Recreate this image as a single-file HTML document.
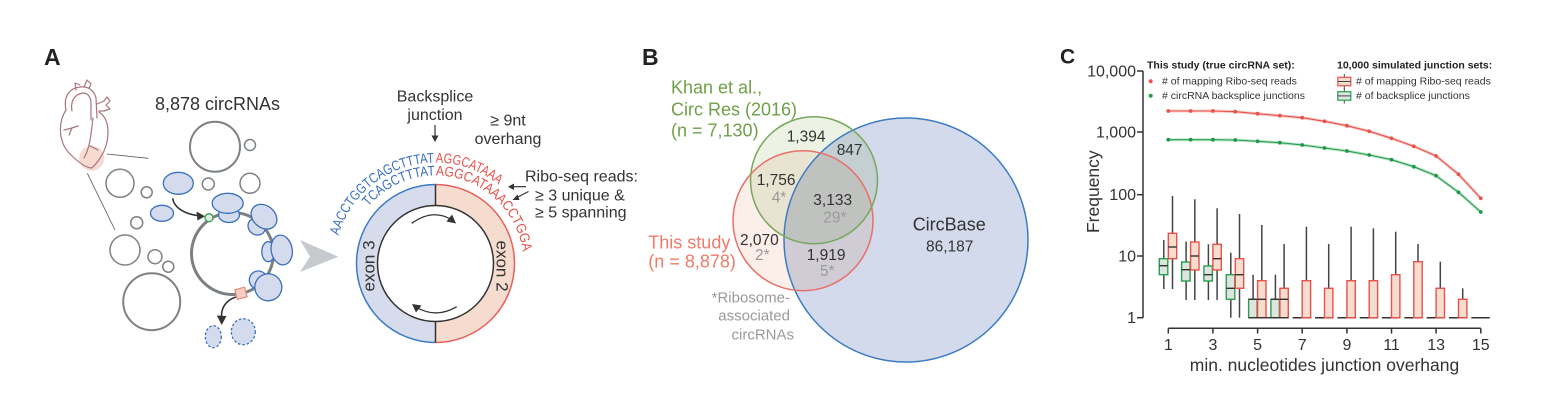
<!DOCTYPE html>
<html>
<head>
<meta charset="utf-8">
<style>
  html,body{margin:0;padding:0;background:#fff;}
  svg{display:block;}
  text{font-family:"Liberation Sans", Arial, sans-serif;}
</style>
</head>
<body>
<svg width="1551" height="400" viewBox="0 0 1551 400" xmlns="http://www.w3.org/2000/svg">
<rect width="1551" height="400" fill="#fff"/>
<defs>
  <path id="outerArc" d="M348 314 A101 101 0 1 1 536.5 263.5" fill="none"/>
  <path id="innerArc" d="M359.3 307.5 A88 88 0 1 1 511.7 307.5" fill="none"/>
</defs>

<!-- ================= PANEL A ================= -->
<text x="44" y="65" font-size="23" font-weight="bold" fill="#222">A</text>
<text x="155" y="110" font-size="18" fill="#333">8,878 circRNAs</text>

<!-- heart -->
<circle cx="91.7" cy="158.3" r="12.5" fill="#f6d3c8" opacity="0.85"/>
<g fill="none" stroke="#a8767a" stroke-width="1.2" stroke-linecap="round" stroke-linejoin="round">
  <path d="M66 110 C58 122,58 142,70 154 C78 162,86 168,92 168 C100 160,108 148,108 132 C108 122,105 116,99 112"/>
  <path d="M66 110 C63 96,70 88,80 87 C88 86,94 90,96 98 L97 118"/>
  <path d="M72 111 C70 101,75 94,83 93 C88 93,91 97,91 104 L91 120"/>
  <path d="M76 90 L75 83 L80 85 M84 87 L87 80 L91 84 L89 88"/>
  <path d="M97 104 L104 101 L107 97 L110 101 L106 105 L110 109 L104 111 L99 111"/>
  <path d="M64 130 L72 128 L78 126 M72 128 L69 135"/>
  <path d="M93 118 C91 134,90 148,84 158 M90 146 L98 150"/>
</g>
<line x1="106.7" y1="154" x2="148.3" y2="158.3" stroke="#555" stroke-width="0.8"/>
<line x1="87.3" y1="173.3" x2="115" y2="230" stroke="#555" stroke-width="0.8"/>

<!-- grey circles -->
<g fill="none" stroke="#7d8285" stroke-width="1.5">
  <circle cx="215" cy="146.7" r="25" stroke-width="2"/>
  <circle cx="250" cy="145" r="5.5"/>
  <circle cx="120" cy="183.3" r="14"/>
  <circle cx="146.7" cy="192.3" r="5.5"/>
  <circle cx="208.3" cy="184" r="6"/>
  <circle cx="250" cy="183.3" r="10"/>
  <circle cx="136.7" cy="222.7" r="6"/>
  <circle cx="125" cy="250" r="15"/>
  <circle cx="155" cy="256.7" r="7"/>
  <circle cx="168.3" cy="266.7" r="5.5"/>
  <circle cx="151.7" cy="301.7" r="28.5" stroke-width="2"/>
</g>

<!-- ring -->
<circle cx="232.5" cy="253.5" r="41" fill="none" stroke="#7b8083" stroke-width="3"/>

<!-- ribosomes -->
<g fill="#d4dbec" stroke="#3a6fc0" stroke-width="1.3">
  <ellipse cx="178.3" cy="183.3" rx="15" ry="11"/>
  <ellipse cx="162" cy="213.3" rx="11.5" ry="8"/>
  <ellipse cx="229" cy="215" rx="10.5" ry="7.5"/>
  <ellipse cx="227.7" cy="203.3" rx="15.5" ry="10"/>
  <ellipse cx="256.7" cy="226.7" rx="9" ry="8" transform="rotate(35 256.7 226.7)"/>
  <ellipse cx="264" cy="216.7" rx="14" ry="11" transform="rotate(40 264 216.7)"/>
  <ellipse cx="268.3" cy="251.7" rx="6.5" ry="10"/>
  <ellipse cx="281.7" cy="250" rx="10.5" ry="15" transform="rotate(-10 281.7 250)"/>
  <ellipse cx="258.3" cy="280" rx="9" ry="9"/>
  <ellipse cx="268.3" cy="287.3" rx="13.5" ry="13.5" transform="rotate(-30 268.3 287.3)"/>
</g>
<g fill="#d4dbec" stroke="#3a6fc0" stroke-width="1.3" stroke-dasharray="2.5 2">
  <ellipse cx="213.3" cy="336.7" rx="8" ry="11"/>
  <ellipse cx="243.3" cy="331.7" rx="12" ry="13"/>
</g>
<circle cx="209" cy="217.7" r="4" fill="#e2ebe0" stroke="#2fa050" stroke-width="1.3"/>
<rect x="236" y="288.3" width="10" height="10" fill="#f7cfc6" stroke="#e88878" stroke-width="1.2" transform="rotate(-15 241 293.3)"/>

<!-- black arrows -->
<path d="M172.7 198.3 C174 208,185 214,199 215.8" fill="none" stroke="#333" stroke-width="1.6"/>
<polygon points="205,216.3 196.5,211.5 197.5,220.5" fill="#333"/>
<path d="M236 297 C226 300,221 308,221.5 317" fill="none" stroke="#333" stroke-width="1.6"/>
<polygon points="221.7,325 216.8,315.5 226.5,316" fill="#333"/>

<!-- grey chevron -->
<polygon points="300,240 338.3,256.7 300,272 310,256.5" fill="#c6cace"/>

<!-- circle diagram -->
<path d="M435.5 184.5 A79 79 0 0 0 435.5 342.5 L435.5 321.5 A58 58 0 0 1 435.5 205.5 Z" fill="#d6dcec"/>
<path d="M435.5 184.5 A79 79 0 0 1 435.5 342.5 L435.5 321.5 A58 58 0 0 0 435.5 205.5 Z" fill="#f5dccf"/>
<path d="M435.5 184.5 A79 79 0 0 0 435.5 342.5" fill="none" stroke="#3b7cc6" stroke-width="1.5"/>
<path d="M435.5 184.5 A79 79 0 0 1 435.5 342.5" fill="none" stroke="#e8605a" stroke-width="1.5"/>
<circle cx="435.5" cy="263.5" r="58" fill="#fff" stroke="#333" stroke-width="1.5"/>
<line x1="435.5" y1="184.5" x2="435.5" y2="205.5" stroke="#333" stroke-width="1.5"/>
<line x1="435.5" y1="321.5" x2="435.5" y2="342.5" stroke="#333" stroke-width="1.5"/>
<path d="M411.7 223.3 Q433 208,452 220" fill="none" stroke="#333" stroke-width="1.3"/>
<polygon points="456,223.5 446.5,221.5 452,214.5" fill="#333"/>
<path d="M456.7 306.7 Q436 319,416 307" fill="none" stroke="#333" stroke-width="1.3"/>
<polygon points="412,304 421.5,305.5 416,312.5" fill="#333"/>
<text transform="translate(369,266) rotate(-90)" font-size="17" fill="#333" text-anchor="middle" dominant-baseline="central">exon 3</text>
<text transform="translate(502,266) rotate(90)" font-size="17" fill="#333" text-anchor="middle" dominant-baseline="central">exon 2</text>

<!-- sequences -->
<text font-size="14" fill="#3a6fc0"><textPath href="#outerArc" startOffset="81" textLength="129" lengthAdjust="spacingAndGlyphs">AACCTGGTCAGCTTTAT</textPath></text>
<text font-size="14" fill="#e8524a"><textPath href="#outerArc" startOffset="211.5" textLength="68" lengthAdjust="spacingAndGlyphs">AGGCATAAA</textPath></text>
<text font-size="14" fill="#3a6fc0"><textPath href="#innerArc" startOffset="107.5" textLength="76" lengthAdjust="spacingAndGlyphs">TCAGCTTTAT</textPath></text>
<text font-size="14" fill="#e8524a"><textPath href="#innerArc" startOffset="184.3" textLength="126" lengthAdjust="spacingAndGlyphs">AGGCATAAACCTGGA</textPath></text>

<text x="435" y="101.7" font-size="16" fill="#333" text-anchor="middle">Backsplice</text>
<text x="435" y="120" font-size="16" fill="#333" text-anchor="middle">junction</text>
<line x1="435" y1="125" x2="435" y2="137" stroke="#333" stroke-width="1.2"/>
<polygon points="435,142 431.5,135.5 438.5,135.5" fill="#333"/>
<text x="508" y="125.5" font-size="16" fill="#333" text-anchor="middle">≥ 9nt</text>
<text x="508" y="144" font-size="16" fill="#333" text-anchor="middle">overhang</text>
<text x="525" y="181.7" font-size="16" fill="#333">Ribo-seq reads:</text>
<text x="535" y="200.7" font-size="16" fill="#333">≥ 3 unique &amp;</text>
<text x="535" y="217.7" font-size="16" fill="#333">≥ 5 spanning</text>
<line x1="526" y1="186.7" x2="512" y2="186.7" stroke="#333" stroke-width="1.2"/>
<polygon points="508,186.7 514,183.5 514,190" fill="#333"/>
<line x1="528.5" y1="191.5" x2="516" y2="198" stroke="#333" stroke-width="1.2"/>
<polygon points="512.5,200 517.5,194.5 519.5,200" fill="#333"/>

<!-- ================= PANEL B ================= -->
<text x="642" y="65" font-size="23" font-weight="bold" fill="#222">B</text>
<g style="mix-blend-mode:multiply">
  <circle cx="906" cy="240" r="122" fill="#d3daeb"/>
</g>
<circle cx="803" cy="220.7" r="70" fill="#f9dccf" fill-opacity="0.45" style="mix-blend-mode:multiply"/>
<circle cx="814" cy="180.3" r="63.5" fill="#dce9cf" fill-opacity="0.55" style="mix-blend-mode:multiply"/>
<circle cx="906" cy="240" r="122" fill="none" stroke="#3b7bc4" stroke-width="1.5"/>
<circle cx="803" cy="220.7" r="70" fill="none" stroke="#e8706a" stroke-width="1.5"/>
<circle cx="814" cy="180.3" r="63.5" fill="none" stroke="#78a85c" stroke-width="1.5"/>

<g font-size="18" fill="#6fa048">
  <text x="671" y="93.3">Khan et al.,</text>
  <text x="671" y="115.7">Circ Res (2016)</text>
  <text x="671" y="136.5">(n = 7,130)</text>
</g>
<g font-size="18" fill="#f07a6a">
  <text x="648.3" y="248.3">This study</text>
  <text x="648.3" y="267.3">(n = 8,878)</text>
</g>
<g font-size="15.5" fill="#333">
  <text x="786.7" y="141.7">1,394</text>
  <text x="836.7" y="155">847</text>
  <text x="756.7" y="185">1,756</text>
  <text x="813.3" y="205">3,133</text>
  <text x="740" y="245">2,070</text>
  <text x="806.7" y="260">1,919</text>
  <text x="926" y="251.7">86,187</text>
</g>
<text x="912.7" y="230.7" font-size="18" fill="#333">CircBase</text>
<g font-size="15.5" fill="#9a9a9a">
  <text x="771.7" y="202.3">4*</text>
  <text x="823.3" y="222.7">29*</text>
  <text x="755" y="260">2*</text>
  <text x="820" y="276">5*</text>
</g>
<g font-size="15" fill="#9a9a9a" text-anchor="end">
  <text x="790" y="302.7">*Ribosome-</text>
  <text x="790" y="320.7">associated</text>
  <text x="794" y="339.3">circRNAs</text>
</g>

<!-- ================= PANEL C ================= -->
<text x="1060" y="63.5" font-size="21" font-weight="bold" fill="#222">C</text>

<!-- axes -->
<g stroke="#333" stroke-width="1.5" fill="none">
  <line x1="1143" y1="71" x2="1143" y2="318"/>
  <line x1="1137" y1="71" x2="1143" y2="71"/>
  <line x1="1137" y1="132" x2="1143" y2="132"/>
  <line x1="1137" y1="194.7" x2="1143" y2="194.7"/>
  <line x1="1137" y1="256" x2="1143" y2="256"/>
  <line x1="1137" y1="317.7" x2="1143" y2="317.7"/>
  <line x1="1168.3" y1="328.3" x2="1480.8" y2="328.3"/>
  <line x1="1168.3" y1="328.3" x2="1168.3" y2="333.5"/>
  <line x1="1212.9" y1="328.3" x2="1212.9" y2="333.5"/>
  <line x1="1257.6" y1="328.3" x2="1257.6" y2="333.5"/>
  <line x1="1302.2" y1="328.3" x2="1302.2" y2="333.5"/>
  <line x1="1346.9" y1="328.3" x2="1346.9" y2="333.5"/>
  <line x1="1391.5" y1="328.3" x2="1391.5" y2="333.5"/>
  <line x1="1436.1" y1="328.3" x2="1436.1" y2="333.5"/>
  <line x1="1480.8" y1="328.3" x2="1480.8" y2="333.5"/>
</g>
<g font-size="16" fill="#333" text-anchor="end">
  <text x="1136" y="76.5">10,000</text>
  <text x="1136" y="137.5">1,000</text>
  <text x="1136" y="200.2">100</text>
  <text x="1136" y="261.5">10</text>
  <text x="1136" y="323.2">1</text>
</g>
<g font-size="16" fill="#333" text-anchor="middle">
  <text x="1168.3" y="350">1</text>
  <text x="1212.9" y="350">3</text>
  <text x="1257.6" y="350">5</text>
  <text x="1302.2" y="350">7</text>
  <text x="1346.9" y="350">9</text>
  <text x="1391.5" y="350">11</text>
  <text x="1436.1" y="350">13</text>
  <text x="1480.8" y="350">15</text>
</g>
<text x="1324.5" y="371" font-size="17.5" fill="#333" text-anchor="middle">min. nucleotides junction overhang</text>
<text transform="translate(1099,191.7) rotate(-90)" font-size="17.5" fill="#333" text-anchor="middle">Frequency</text>

<!-- legend -->
<text x="1147" y="68.3" font-size="10.5" font-weight="bold" fill="#222">This study (true circRNA set):</text>
<text x="1337" y="68.3" font-size="10.5" font-weight="bold" fill="#222">10,000 simulated junction sets:</text>
<circle cx="1150.7" cy="81.3" r="2" fill="#e8524a"/>
<circle cx="1150.7" cy="95.7" r="2" fill="#27a04e"/>
<text x="1162" y="84.7" font-size="10.5" fill="#333"># of mapping Ribo-seq reads</text>
<text x="1162" y="99.2" font-size="10.5" fill="#333"># circRNA backsplice junctions</text>
<line x1="1344.3" y1="74" x2="1344.3" y2="89" stroke="#444" stroke-width="1"/>
<rect x="1337.8" y="77.3" width="13" height="8.5" fill="#f6ddd0" stroke="#e8524a" stroke-width="1.2"/>
<line x1="1337.8" y1="81.5" x2="1350.8" y2="81.5" stroke="#444" stroke-width="1"/>
<line x1="1344.3" y1="88.5" x2="1344.3" y2="103.5" stroke="#444" stroke-width="1"/>
<rect x="1337.8" y="91.7" width="13" height="8.5" fill="#dfe4e0" stroke="#27a04e" stroke-width="1.2"/>
<line x1="1337.8" y1="95.9" x2="1350.8" y2="95.9" stroke="#444" stroke-width="1"/>
<text x="1356" y="84.7" font-size="10.5" fill="#333"># of mapping Ribo-seq reads</text>
<text x="1356" y="99.2" font-size="10.5" fill="#333"># of backsplice junctions</text>

<!-- lines -->
<polyline fill="none" stroke="#e8524a" stroke-width="3" stroke-opacity="0.3"
  points="1168.3,111 1190.6,111 1212.9,111 1235.3,111.7 1257.6,113.7 1279.9,115.7 1302.2,117.7 1324.5,121.3 1346.9,125.7 1369.2,131.3 1391.5,138.3 1413.8,146.3 1436.1,156 1458.5,174.3 1480.8,198.3"/>
<polyline fill="none" stroke="#e8524a" stroke-width="1.1"
  points="1168.3,111 1190.6,111 1212.9,111 1235.3,111.7 1257.6,113.7 1279.9,115.7 1302.2,117.7 1324.5,121.3 1346.9,125.7 1369.2,131.3 1391.5,138.3 1413.8,146.3 1436.1,156 1458.5,174.3 1480.8,198.3"/>
<polyline fill="none" stroke="#27a04e" stroke-width="3" stroke-opacity="0.3"
  points="1168.3,139.7 1190.6,139.7 1212.9,139.7 1235.3,140 1257.6,141.3 1279.9,142.7 1302.2,145 1324.5,148 1346.9,151 1369.2,155 1391.5,159.7 1413.8,166.7 1436.1,175.7 1458.5,192.3 1480.8,212"/>
<polyline fill="none" stroke="#27a04e" stroke-width="1.1"
  points="1168.3,139.7 1190.6,139.7 1212.9,139.7 1235.3,140 1257.6,141.3 1279.9,142.7 1302.2,145 1324.5,148 1346.9,151 1369.2,155 1391.5,159.7 1413.8,166.7 1436.1,175.7 1458.5,192.3 1480.8,212"/>
<g fill="#e8524a">
  <circle cx="1168.3" cy="111" r="1.9"/><circle cx="1190.6" cy="111" r="1.9"/><circle cx="1212.9" cy="111" r="1.9"/>
  <circle cx="1235.3" cy="111.7" r="1.9"/><circle cx="1257.6" cy="113.7" r="1.9"/><circle cx="1279.9" cy="115.7" r="1.9"/>
  <circle cx="1302.2" cy="117.7" r="1.9"/><circle cx="1324.5" cy="121.3" r="1.9"/><circle cx="1346.9" cy="125.7" r="1.9"/>
  <circle cx="1369.2" cy="131.3" r="1.9"/><circle cx="1391.5" cy="138.3" r="1.9"/><circle cx="1413.8" cy="146.3" r="1.9"/>
  <circle cx="1436.1" cy="156" r="1.9"/><circle cx="1458.5" cy="174.3" r="1.9"/><circle cx="1480.8" cy="198.3" r="1.9"/>
</g>
<g fill="#1f9a48">
  <circle cx="1168.3" cy="139.7" r="1.9"/><circle cx="1190.6" cy="139.7" r="1.9"/><circle cx="1212.9" cy="139.7" r="1.9"/>
  <circle cx="1235.3" cy="140" r="1.9"/><circle cx="1257.6" cy="141.3" r="1.9"/><circle cx="1279.9" cy="142.7" r="1.9"/>
  <circle cx="1302.2" cy="145" r="1.9"/><circle cx="1324.5" cy="148" r="1.9"/><circle cx="1346.9" cy="151" r="1.9"/>
  <circle cx="1369.2" cy="155" r="1.9"/><circle cx="1391.5" cy="159.7" r="1.9"/><circle cx="1413.8" cy="166.7" r="1.9"/>
  <circle cx="1436.1" cy="175.7" r="1.9"/><circle cx="1458.5" cy="192.3" r="1.9"/><circle cx="1480.8" cy="212" r="1.9"/>
</g>

<!-- baseline flat lines at 1 -->
<g stroke="#333" stroke-width="1.5">
  <line x1="1292.7" y1="317.7" x2="1311.2" y2="317.7"/>
  <line x1="1315" y1="317.7" x2="1333.5" y2="317.7"/>
  <line x1="1337.4" y1="317.7" x2="1355.9" y2="317.7"/>
  <line x1="1359.7" y1="317.7" x2="1378.2" y2="317.7"/>
  <line x1="1382" y1="317.7" x2="1400.5" y2="317.7"/>
  <line x1="1404.3" y1="317.7" x2="1422.8" y2="317.7"/>
  <line x1="1426.6" y1="317.7" x2="1445.1" y2="317.7"/>
  <line x1="1449" y1="317.7" x2="1467.5" y2="317.7"/>
  <line x1="1471.3" y1="317.7" x2="1489.8" y2="317.7"/>
</g>

<!-- whiskers -->
<g stroke="#444" stroke-width="1.5">
  <line x1="1163.8" y1="240" x2="1163.8" y2="289"/>
  <line x1="1172.5" y1="196" x2="1172.5" y2="289"/>
  <line x1="1186.1" y1="241.7" x2="1186.1" y2="300"/>
  <line x1="1194.8" y1="199.3" x2="1194.8" y2="300"/>
  <line x1="1208.4" y1="244.3" x2="1208.4" y2="300"/>
  <line x1="1217.1" y1="208.3" x2="1217.1" y2="300"/>
  <line x1="1230.8" y1="252.7" x2="1230.8" y2="317.7"/>
  <line x1="1239.5" y1="214" x2="1239.5" y2="317.7"/>
  <line x1="1253.1" y1="274.7" x2="1253.1" y2="299.3"/>
  <line x1="1261.8" y1="225" x2="1261.8" y2="280.7"/>
  <line x1="1275.4" y1="274.7" x2="1275.4" y2="299.3"/>
  <line x1="1284.1" y1="244" x2="1284.1" y2="288.3"/>
  <line x1="1306.4" y1="226.7" x2="1306.4" y2="280.7"/>
  <line x1="1328.7" y1="244" x2="1328.7" y2="288.3"/>
  <line x1="1351.1" y1="226.7" x2="1351.1" y2="280.7"/>
  <line x1="1373.4" y1="228.3" x2="1373.4" y2="280.7"/>
  <line x1="1395.7" y1="231.7" x2="1395.7" y2="274.7"/>
  <line x1="1418" y1="244" x2="1418" y2="261.7"/>
  <line x1="1440.3" y1="261.7" x2="1440.3" y2="288.3"/>
  <line x1="1462.7" y1="288.3" x2="1462.7" y2="299.3"/>
</g>

<!-- green boxes -->
<g fill="#dfe4e0" stroke="#27a04e" stroke-width="1.4">
  <rect x="1159.3" y="258.7" width="8.5" height="16"/>
  <rect x="1181.6" y="262" width="8.5" height="19"/>
  <rect x="1203.9" y="266" width="8.5" height="15"/>
  <rect x="1226.3" y="274.7" width="8.5" height="24.6"/>
  <rect x="1248.6" y="299.3" width="8.5" height="18.4"/>
  <rect x="1270.9" y="299.3" width="8.5" height="18.4"/>
</g>
<!-- red boxes -->
<g fill="#f6ddd0" stroke="#e8524a" stroke-width="1.4">
  <rect x="1168.3" y="233.3" width="8.4" height="25.4"/>
  <rect x="1190.6" y="242" width="8.4" height="28"/>
  <rect x="1212.9" y="244.3" width="8.4" height="25.7"/>
  <rect x="1235.3" y="258.7" width="8.4" height="29.6"/>
  <rect x="1257.6" y="280.7" width="8.4" height="37"/>
  <rect x="1279.9" y="288.3" width="8.4" height="29.4"/>
  <rect x="1302.2" y="280.7" width="8.4" height="37"/>
  <rect x="1324.5" y="288.3" width="8.4" height="29.4"/>
  <rect x="1346.9" y="280.7" width="8.4" height="37"/>
  <rect x="1369.2" y="280.7" width="8.4" height="37"/>
  <rect x="1391.5" y="274.7" width="8.4" height="43"/>
  <rect x="1413.8" y="261.7" width="8.4" height="56"/>
  <rect x="1436.1" y="288.3" width="8.4" height="29.4"/>
  <rect x="1458.5" y="299.3" width="8.4" height="18.4"/>
</g>
<!-- medians -->
<g stroke="#333" stroke-width="1.4">
  <line x1="1159.3" y1="265.7" x2="1167.8" y2="265.7"/>
  <line x1="1168.3" y1="247" x2="1176.7" y2="247"/>
  <line x1="1181.6" y1="269.7" x2="1190.1" y2="269.7"/>
  <line x1="1190.6" y1="256" x2="1199" y2="256"/>
  <line x1="1203.9" y1="274.7" x2="1212.4" y2="274.7"/>
  <line x1="1212.9" y1="258.7" x2="1221.3" y2="258.7"/>
  <line x1="1226.3" y1="288.3" x2="1234.8" y2="288.3"/>
  <line x1="1235.3" y1="274.7" x2="1243.7" y2="274.7"/>
  <line x1="1248.6" y1="299.3" x2="1257.1" y2="299.3"/>
  <line x1="1257.6" y1="299.3" x2="1266" y2="299.3"/>
  <line x1="1270.9" y1="299.3" x2="1279.4" y2="299.3"/>
  <line x1="1279.9" y1="299.3" x2="1288.3" y2="299.3"/>
  <line x1="1248.6" y1="317.7" x2="1288.3" y2="317.7"/>
</g>
</svg>
</body>
</html>
